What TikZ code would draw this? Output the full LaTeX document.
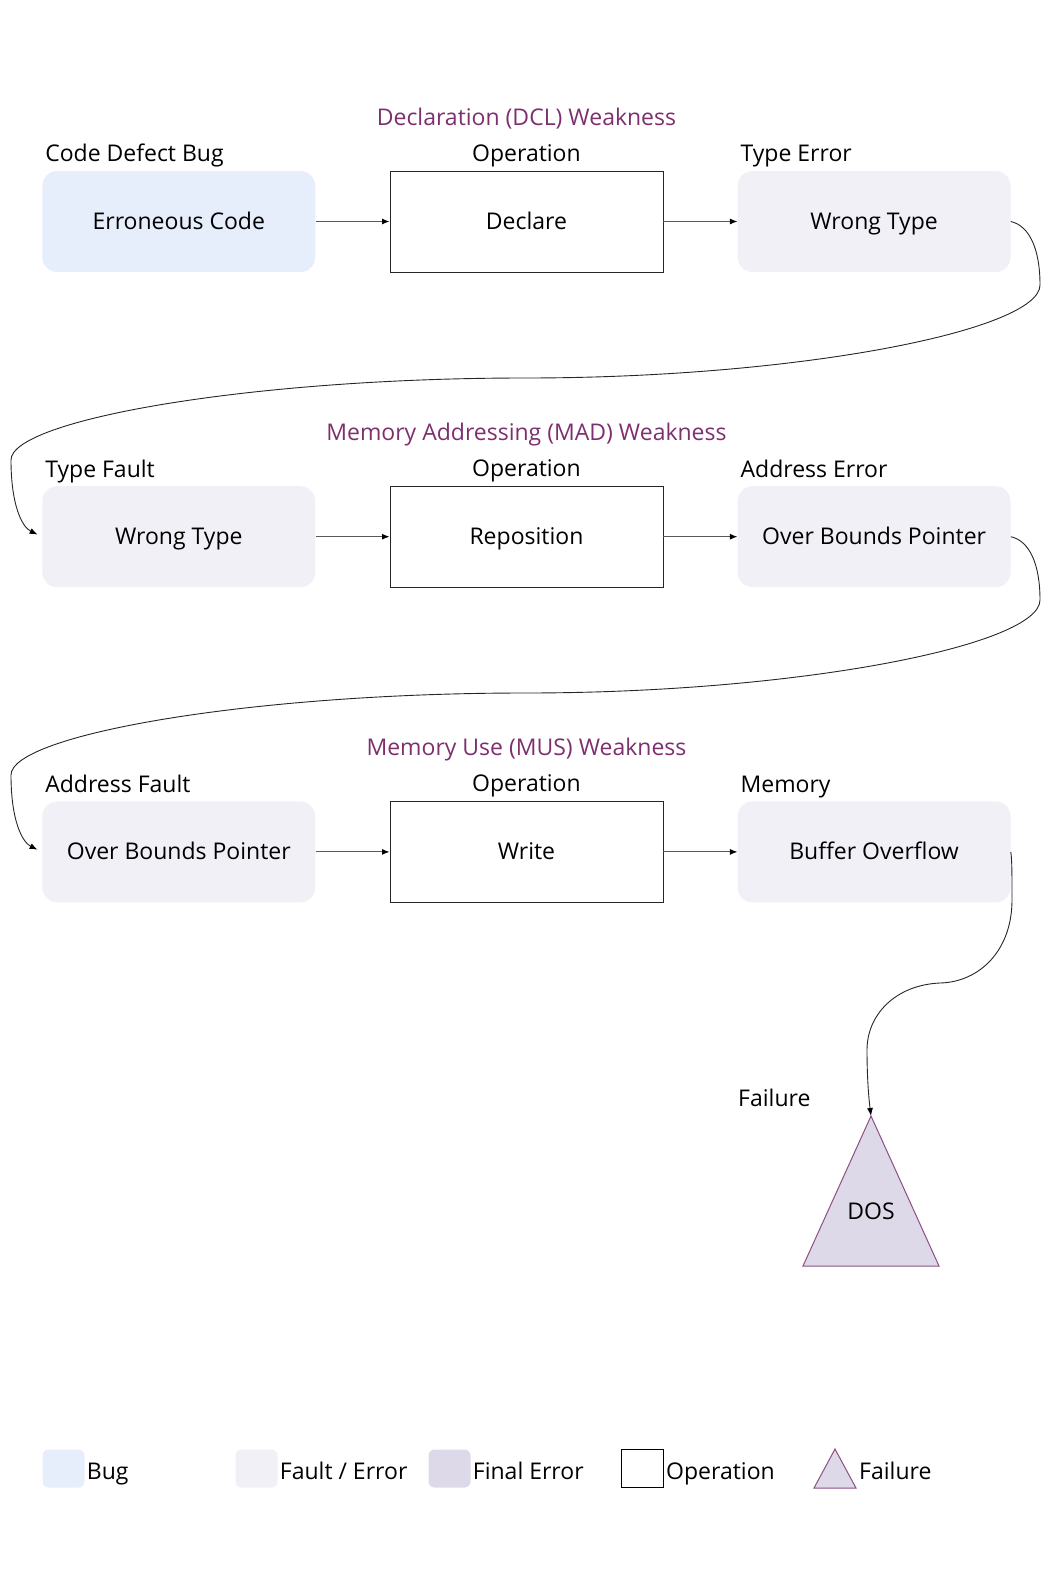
\documentclass[tikz,border=0pt]{standalone}
\usepackage{fontspec}
\setmainfont{Open Sans}
\usepackage{xcolor}
\usepackage{tikz}
\usetikzlibrary{positioning,arrows.meta,calc}

\definecolor{bugfill}{RGB}{230,238,251}
\definecolor{faultfill}{RGB}{242,240,247}
\definecolor{finalfill}{RGB}{221,217,232}
\definecolor{weakcol}{RGB}{126,47,110}
\definecolor{failcol}{RGB}{140,80,130}

\tikzset{
  txt/.style={font=\fontsize{23}{28}\selectfont},
  box/.style={txt, minimum width=273pt, minimum height=101pt, inner sep=0pt, text height=20pt, text depth=4pt},
  bugbox/.style={box, fill=bugfill, rounded corners=15pt},
  faultbox/.style={box, fill=faultfill, rounded corners=15pt},
  opbox/.style={box, draw=black!85, line width=0.9pt, fill=white},
  lbl/.style={txt, inner sep=0pt},
  weak/.style={txt, inner sep=0pt, text=weakcol},
  flow/.style={-{Latex[length=7.5pt,width=6pt,black]}, line width=1pt, draw=black!65},
  hop/.style={-{Latex[length=8pt,width=6pt,black]}, line width=0.9pt, draw=black!85},
  legsw/.style={minimum width=42pt, minimum height=38pt, inner sep=0pt, rounded corners=6pt}
}

\begin{document}
\begin{tikzpicture}[x=1pt,y=1pt]
\useasboundingbox (0,0) rectangle (1049,-1579);

% Row 1: Declaration (DCL) Weakness
\node[bugbox] (err) at (178.8,-221.5) {Erroneous Code};
\node[opbox, right=74pt of err] (decl) {Declare};
\node[faultbox, right=74pt of decl] (wt1) {Wrong Type};
\node[lbl, anchor=base west] (errL) at ([xshift=3pt,yshift=9pt]err.north west) {Code Defect Bug};
\node[lbl, anchor=base] (declL) at ([yshift=9pt]decl.north) {Operation};
\node[lbl, anchor=base west] (wt1L) at ([xshift=3pt,yshift=9pt]wt1.north west) {Type Error};
\node[weak, anchor=base] (dcl) at ([yshift=36pt]declL.base) {Declaration (DCL) Weakness};

% Row 2: Memory Addressing (MAD) Weakness
\node[faultbox] (wt2) at (178.8,-536.7) {Wrong Type};
\node[opbox, right=74pt of wt2] (repo) {Reposition};
\node[faultbox, right=74pt of repo] (obp1) {Over Bounds Pointer};
\node[lbl, anchor=base west] (wt2L) at ([xshift=3pt,yshift=9pt]wt2.north west) {Type Fault};
\node[lbl, anchor=base] (repoL) at ([yshift=9pt]repo.north) {Operation};
\node[lbl, anchor=base west] (obp1L) at ([xshift=3pt,yshift=9pt]obp1.north west) {Address Error};
\node[weak, anchor=base] (mad) at ([yshift=36pt]repoL.base) {Memory Addressing (MAD) Weakness};

% Row 3: Memory Use (MUS) Weakness
\node[faultbox] (obp2) at (178.8,-851.9) {Over Bounds Pointer};
\node[opbox, right=74pt of obp2] (wr) {Write};
\node[faultbox, right=74pt of wr] (bo) {Buffer Overflow};
\node[lbl, anchor=base west] (obp2L) at ([xshift=3pt,yshift=9pt]obp2.north west) {Address Fault};
\node[lbl, anchor=base] (wrL) at ([yshift=9pt]wr.north) {Operation};
\node[lbl, anchor=base west] (boL) at ([xshift=3pt,yshift=9pt]bo.north west) {Memory};
\node[weak, anchor=base] (mus) at ([yshift=36pt]wrL.base) {Memory Use (MUS) Weakness};

% Failure
\coordinate (dosTop) at (871,-1116);
\fill[finalfill] (dosTop) -- (939,-1266) -- (803,-1266) -- cycle;
\draw[failcol, line width=1pt, line join=miter] (dosTop) -- (939,-1266) -- (803,-1266) -- cycle;
\node[txt] (dos) at (871,-1211) {DOS};
\node[lbl, anchor=base west] (failL) at (738,-1106) {Failure};

% Straight arrows
\draw[flow] (err) -- (decl);
\draw[flow] (decl) -- (wt1);
\draw[flow] (wt2) -- (repo);
\draw[flow] (repo) -- (obp1);
\draw[flow] (obp2) -- (wr);
\draw[flow] (wr) -- (bo);

% Curved hops between rows
\draw[hop, shorten >=5pt] (wt1.east) .. controls (1030,-226) and (1040,-250) .. (1040,-285)
  .. controls (1040,-330) and (800,-378) .. (525,-378)
  .. controls (250,-378) and (11,-420) .. (11,-460)
  .. controls (11,-505) and (22,-527) .. (wt2.west);
\draw[hop, shorten >=5pt] (obp1.east) .. controls (1030,-541) and (1040,-565) .. (1040,-600)
  .. controls (1040,-645) and (800,-693) .. (525,-693)
  .. controls (250,-693) and (11,-735) .. (11,-775)
  .. controls (11,-820) and (22,-842) .. (obp2.west);
\draw[hop] (bo.east) .. controls (1012,-860) and (1012,-875) .. (1012,-900)
  .. controls (1012,-950) and (980,-982) .. (940,-983)
  .. controls (895,-985) and (867,-1015) .. (867,-1050)
  .. controls (867,-1080) and (869,-1100) .. (dosTop);

% Legend
\node[legsw, fill=bugfill] (legBug) at (63.5,-1468.5) {};
\node[lbl, anchor=base west] (legBugT) at ([xshift=2pt,yshift=-10.5pt]legBug.east) {Bug};
\node[legsw, fill=faultfill] (legFault) at (256.5,-1468.5) {};
\node[lbl, anchor=base west] (legFaultT) at ([xshift=2pt,yshift=-10.5pt]legFault.east) {Fault / Error};
\node[legsw, fill=finalfill] (legFinal) at (449.5,-1468.5) {};
\node[lbl, anchor=base west] (legFinalT) at ([xshift=2pt,yshift=-10.5pt]legFinal.east) {Final Error};
\node[legsw, draw=black, line width=1pt, rounded corners=0pt] (legOp) at (642.5,-1468.5) {};
\node[lbl, anchor=base west] (legOpT) at ([xshift=2pt,yshift=-10.5pt]legOp.east) {Operation};
\coordinate (legFailTop) at (835,-1449);
\draw[failcol, fill=finalfill, line width=1pt] (legFailTop) -- (856,-1488) -- (814,-1488) -- cycle;
\node[lbl, anchor=base west] (legFailT) at (859,-1479) {Failure};

\end{tikzpicture}
\end{document}
